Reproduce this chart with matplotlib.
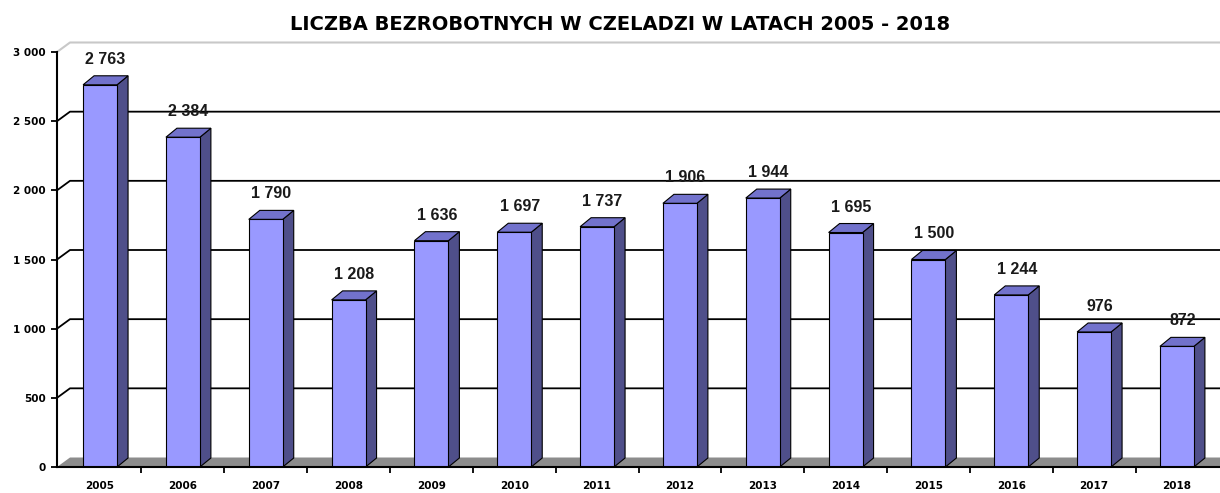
import matplotlib
matplotlib.use("Agg")
import matplotlib.pyplot as plt
from matplotlib.patches import Polygon

# -----------------------
# Data
# -----------------------
YEARS = ["2005", "2006", "2007", "2008", "2009", "2010", "2011",
         "2012", "2013", "2014", "2015", "2016", "2017", "2018"]
UNEMPLOYED = [2763, 2384, 1790, 1208, 1636, 1697, 1737,
              1906, 1944, 1695, 1500, 1244, 976, 872]
Y_TICKS = [0, 500, 1000, 1500, 2000, 2500, 3000]
TITLE = "LICZBA BEZROBOTNYCH W CZELADZI W LATACH 2005 - 2018"

# -----------------------
# Style
# -----------------------
FRONT = "#9999ff"
TOP = "#7272cc"
SIDE = "#4f4f8a"
FLOOR = "#8c8c8c"
NARROW = ["Liberation Sans Narrow", "DejaVu Sans"]

def fmt(v):
    return f"{v:,}".replace(",", " ")

fig = plt.figure(figsize=(12.2, 4.93), dpi=100)
ax = fig.add_axes([57 / 1220, 26 / 493, (1220 - 57) / 1220, 415 / 493])
x0, x1 = -0.52, 13.52
ax.set_xlim(x0, x1)
ax.set_ylim(0, 3000)

# pixel -> data conversions for the fake 3D depth
px_x = (x1 - x0) / 1163
px_y = 3000 / 415
bdx, bdy = 11 * px_x, 9 * px_y     # bar depth
wdx, wdy = 13 * px_x, 9.5 * px_y   # back wall offset
bw = 0.41

# floor
ax.add_patch(Polygon([(x0, 0), (x0 + wdx, wdy), (x1 + 1, wdy), (x1 + 1, 0)],
                     closed=True, facecolor=FLOOR, edgecolor="none",
                     zorder=1, clip_on=False))

# gridlines on back wall
for t in Y_TICKS[1:]:
    col = "#c8c8c8" if t == 3000 else "black"
    lw = 1.5 if t == 3000 else 1.3
    ax.plot([x0, x0 + wdx, x1], [t, t + wdy, t + wdy], color=col, lw=lw,
            zorder=2, clip_on=False, solid_capstyle="butt")

# bars
for i, v in enumerate(UNEMPLOYED):
    l, r = i - bw / 2, i + bw / 2
    ax.add_patch(Polygon([(r, 0), (r + bdx, bdy), (r + bdx, v + bdy), (r, v)],
                         closed=True, facecolor=SIDE, edgecolor="black",
                         lw=0.8, zorder=3))
    ax.add_patch(Polygon([(l, v), (l + bdx, v + bdy), (r + bdx, v + bdy), (r, v)],
                         closed=True, facecolor=TOP, edgecolor="black",
                         lw=0.8, zorder=3))
    ax.add_patch(Polygon([(l, 0), (l, v), (r, v), (r, 0)],
                         closed=True, facecolor=FRONT, edgecolor="black",
                         lw=0.8, zorder=4))
    ax.text(i + bdx / 2, v + bdy + 9 * px_y, fmt(v), ha="center", va="bottom",
            fontsize=11.5, fontweight="bold", color="#1a1a1a",
            family=["Liberation Sans", "DejaVu Sans"], zorder=5)

# axes
for s in ["top", "right"]:
    ax.spines[s].set_visible(False)
for s in ["left", "bottom"]:
    ax.spines[s].set_linewidth(1.5)
    ax.spines[s].set_zorder(6)

ax.set_yticks(Y_TICKS)
ax.set_yticklabels([fmt(t) for t in Y_TICKS])
ax.set_xticks(range(len(YEARS)))
ax.set_xticklabels(YEARS)
ax.set_xticks([i + 0.5 for i in range(len(YEARS) - 1)], minor=True)
ax.tick_params(axis="x", which="major", length=0, pad=10)
ax.tick_params(axis="x", which="minor", length=4, width=1.3, direction="out")
ax.tick_params(axis="y", length=4, width=1.3, direction="out", pad=4)
for lab in ax.get_xticklabels() + ax.get_yticklabels():
    lab.set_family(NARROW)
    lab.set_fontweight("bold")
    lab.set_fontsize(7.5)

fig.text(620 / 1220, 1 - 25 / 493, TITLE, ha="center", va="center",
         fontsize=14, fontweight="bold", family=NARROW)

fig.savefig("out.png", dpi=100)
